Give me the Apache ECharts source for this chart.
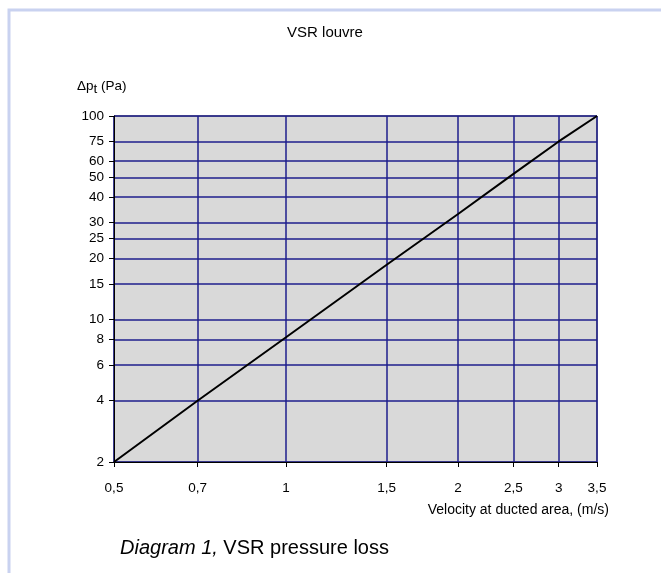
<!DOCTYPE html>
<html>
<head>
<meta charset="utf-8">
<script src="https://cdn.jsdelivr.net/npm/echarts@6/dist/echarts.min.js"></script>
<style>
html,body{margin:0;padding:0;background:#fff;}
#chart{width:661px;height:573px;}
</style>
</head>
<body>
<div id="chart"></div>
<script>
// Data
const velocity = [0.5, 0.7, 1, 1.5, 2, 2.5, 3, 3.5];
const pressureLoss = [2, 4, 8.2, 18.6, 33, 52, 75, 100];
const xTicks = [0.5, 0.7, 1, 1.5, 2, 2.5, 3, 3.5];
const yTicks = [2, 4, 6, 8, 10, 15, 20, 25, 30, 40, 50, 60, 75, 100];

const FONT = '"Liberation Sans", Arial, sans-serif';
const chart = echarts.init(document.getElementById('chart'));

const fmt = v => String(+v.toFixed(6)).replace('.', ',');

chart.setOption({
  backgroundColor: '#ffffff',
  animation: false,
  grid: {
    left: 114, right: 64, top: 116, bottom: 111,
    show: true, backgroundColor: '#d9d9d9',
    borderColor: '#333333', borderWidth: 1
  },
  xAxis: {
    type: 'log', logBase: 10, min: 0.5, max: 3.5,
    axisLine: {show: true, onZero: false, lineStyle: {color: '#000', width: 1}},
    axisTick: {show: true, inside: false, length: 5, customValues: xTicks, lineStyle: {color: '#000'}},
    axisLabel: {customValues: xTicks, formatter: fmt, color: '#000', fontFamily: FONT, fontSize: 13.5, margin: 19},
    splitLine: {show: true, lineStyle: {color: '#1e1e8c', width: 1.5}},
    minorTick: {show: false}, minorSplitLine: {show: false}
  },
  yAxis: {
    type: 'log', logBase: 10, min: 2, max: 100,
    axisLine: {show: true, onZero: false, lineStyle: {color: '#000', width: 1}},
    axisTick: {show: true, inside: false, length: 5, customValues: yTicks, lineStyle: {color: '#000'}},
    axisLabel: {customValues: yTicks, formatter: fmt, color: '#000', fontFamily: FONT, fontSize: 13.5, margin: 10},
    splitLine: {show: true, lineStyle: {color: '#1e1e8c', width: 1.5}},
    minorTick: {show: false}, minorSplitLine: {show: false}
  },
  series: [{
    type: 'line',
    data: velocity.map((v, i) => [v, pressureLoss[i]]),
    showSymbol: false,
    symbol: 'none',
    lineStyle: {color: '#000', width: 2},
    z: 5
  }],
  graphic: [
    {type: 'polyline', silent: true, shape: {points: [[9, 573], [9, 10], [661, 10]]},
     style: {stroke: '#c9d2f0', lineWidth: 3, fill: null}},
    {type: 'text', x: 325, y: 33, style: {text: 'VSR louvre', fill: '#000', font: '15px ' + FONT, textAlign: 'center', textVerticalAlign: 'middle'}},
    {type: 'text', x: 77, y: 86, style: {
      text: '{a|Δp}{s|t}{a| (Pa)}', textVerticalAlign: 'middle',
      rich: {
        a: {fontFamily: FONT, fontSize: 13.5, fill: '#000', color: '#000'},
        s: {fontFamily: FONT, fontSize: 13.5, fill: '#000', color: '#000', padding: [7, 0, 0, 0]}
      }}},
    {type: 'text', x: 609, y: 510, style: {text: 'Velocity at ducted area, (m/s)', fill: '#000', font: '14px ' + FONT, textAlign: 'right', textVerticalAlign: 'middle'}},
    {type: 'text', x: 120, y: 548, style: {
      text: '{i|Diagram 1,}{n| VSR pressure loss}', textVerticalAlign: 'middle',
      rich: {
        i: {fontFamily: FONT, fontSize: 20, fontStyle: 'italic', fill: '#000', color: '#000'},
        n: {fontFamily: FONT, fontSize: 20, fill: '#000', color: '#000'}
      }}}
  ]
});
</script>
</body>
</html>
